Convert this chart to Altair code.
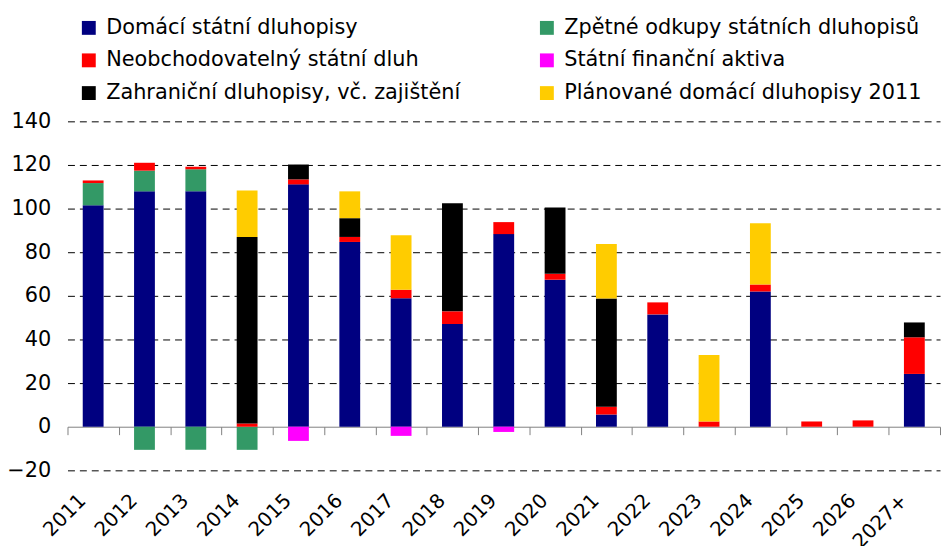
import altair as alt
import pandas as pd

years = ["2011", "2012", "2013", "2014", "2015", "2016", "2017", "2018", "2019",
         "2020", "2021", "2022", "2023", "2024", "2025", "2026", "2027+"]

domestic     = [101.5, 107.9, 107.9, 0, 111.1, 84.7, 58.9, 47.1, 88.3, 67.4, 5.6, 51.5, 0, 62.0, 0, 0, 24.2]
buyback_pos  = [10.2, 9.5, 10.1, 0, 0, 0, 0, 0, 0, 0, 0, 0, 0, 0, 0, 0, 0]
buyback_neg  = [0, -10.6, -10.6, -10.6, 0, 0, 0, 0, 0, 0, 0, 0, 0, 0, 0, 0, 0]
nontradable  = [1.2, 3.6, 1.2, 1.5, 2.3, 2.3, 3.9, 5.8, 5.5, 2.7, 3.6, 5.5, 2.4, 3.2, 2.4, 2.9, 16.8]
assets       = [0, 0, 0, 0, -6.5, 0, -4.2, 0, -2.4, 0, 0, 0, 0, 0, 0, 0, 0]
foreign      = [0, 0, 0, 85.5, 6.8, 8.6, 0, 49.5, 0, 30.4, 49.6, 0, 0, 0, 0, 0, 6.8]
planned      = [0, 0, 0, 21.3, 0, 12.3, 25.0, 0, 0, 0, 25.0, 0, 30.5, 28.1, 0, 0, 0]

names = ["Domácí státní dluhopisy", "Zpětné odkupy státních dluhopisů",
         "Neobchodovatelný státní dluh", "Státní finanční aktiva",
         "Zahraniční dluhopisy, vč. zajištění", "Plánované domácí dluhopisy 2011"]
colors = ["#000080", "#339966", "#FF0000", "#FF00FF", "#000000", "#FFCC00"]

series = [(names[0], domestic), (names[1], buyback_pos), (names[1], buyback_neg),
          (names[2], nontradable), (names[3], assets), (names[4], foreign),
          (names[5], planned)]

rows = []
for k, (name, vals) in enumerate(series):
    for y, v in zip(years, vals):
        if v != 0:
            rows.append({"year": y, "series": name, "value": v, "ord": k})
df = pd.DataFrame(rows)

# legend is filled column by column: left column first, then right column
legend_order = [0, 2, 4, 1, 3, 5]
leg_domain = [names[i] for i in legend_order]
leg_range = [colors[i] for i in legend_order]

FONT = "DejaVu Sans"

chart = alt.Chart(df).mark_bar(size=21).encode(
    x=alt.X("year:N", sort=years, title=None,
            scale=alt.Scale(paddingInner=0, paddingOuter=0),
            axis=alt.Axis(labelAngle=-45, labelFontSize=20, labelFont=FONT,
                          labelColor="black", domainColor="#808080", domainWidth=1,
                          tickColor="#808080", tickSize=8, tickBand="extent",
                          offset=-44, labelPadding=56, labelOffset=-18, grid=False)),
    y=alt.Y("value:Q", stack="zero", title=None,
            scale=alt.Scale(domain=[-20, 140], nice=False),
            axis=alt.Axis(values=list(range(-20, 141, 20)), domain=False, ticks=False,
                          labelFontSize=21, labelFont=FONT, labelColor="black",
                          labelPadding=17,
                          gridColor={"condition": {"test": "datum.value === 0", "value": "transparent"},
                                     "value": "#000000"},
                          gridDash=[7, 5], gridWidth=1)),
    color=alt.Color("series:N", scale=alt.Scale(domain=leg_domain, range=leg_range),
                    legend=alt.Legend(orient="none", legendX=11, legendY=-105, columns=2,
                                      title=None, symbolType="square", symbolSize=196,
                                      symbolStrokeWidth=0, symbolOpacity=1,
                                      labelFontSize=21, labelFont=FONT, labelColor="black",
                                      labelLimit=600, rowPadding=11, columnPadding=76,
                                      labelOffset=7, padding=0)),
    order=alt.Order("ord:Q"),
).properties(
    width=880, height=352, autosize="none",
    padding={"left": 60, "top": 112, "right": 1, "bottom": 74},
).configure_view(stroke=None)

chart.save("out.html", embed_options={"renderer": "svg", "actions": False})
